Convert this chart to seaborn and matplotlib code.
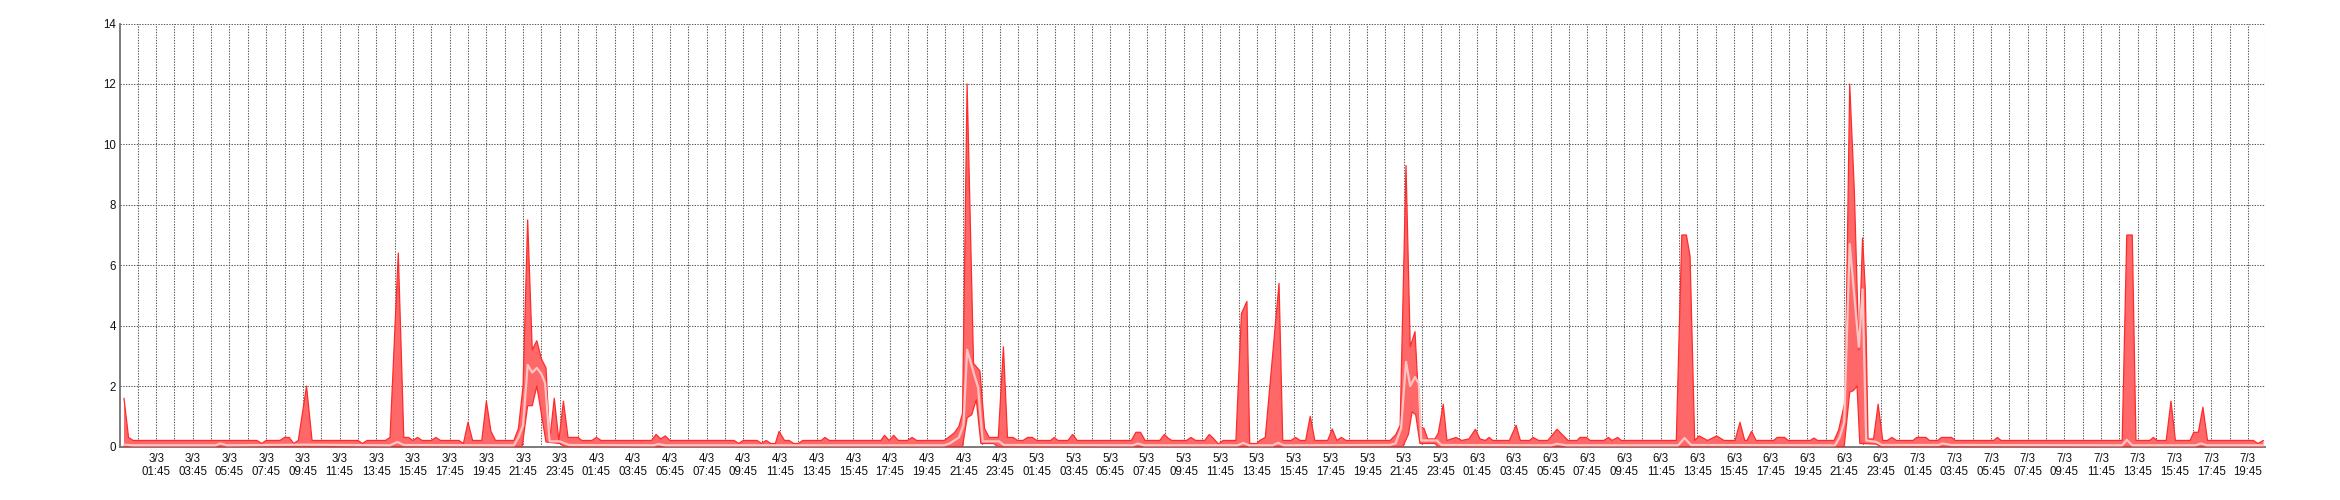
import matplotlib
matplotlib.use("Agg")
import matplotlib.pyplot as plt
import matplotlib.dates as mdates
import numpy as np
import pandas as pd
import seaborn as sns

# hours since 3/3 00:00 and values (vertices of each series)
max_hours = [
    0, 0.25, 0.5, 7.25, 7.5, 7.75, 8.5, 8.75, 9.0, 9.25, 9.5, 9.95, 10.25, 12.75, 13.0, 13.25,
    14.25, 14.5, 14.95, 15.25, 15.5, 15.75, 16.0, 16.25, 16.75, 17.0, 17.25, 18.25, 18.5, 18.75,
    19.0, 19.5, 19.75, 20.0, 20.25, 21.25, 21.5, 21.75, 22.0, 22.25, 22.5, 22.75, 23.0, 23.2,
    23.45, 23.7, 23.95, 24.2, 24.75, 24.95,
    25.5, 25.75, 26.0, 28.75, 29.0, 29.25, 29.5, 29.75, 33.25, 33.5, 33.75, 34.5, 34.75, 35.0,
    35.25, 35.5, 35.7, 36.0, 36.25, 36.5, 36.75, 37.0, 38.0, 38.2, 38.45, 41.25, 41.45, 41.7,
    41.95, 42.2, 42.7, 42.95, 43.2, 44.7, 45.0, 45.25, 45.5, 45.7, 45.95, 46.3, 46.65, 46.9,
    47.15, 47.65, 47.93, 48.15, 48.45, 48.7,
    49.0, 49.25, 49.5, 49.75, 50.5, 50.7, 50.9, 51.45, 51.7, 51.95, 54.9, 55.15, 55.4, 55.65,
    56.45, 56.7, 56.9, 57.1, 57.9, 58.15, 58.4, 58.9, 59.15, 59.4, 59.65, 59.9, 60.6, 60.9,
    61.2, 61.35, 61.75, 61.9, 62.2, 62.95, 63.15, 63.6, 63.85, 64.1, 64.4, 64.65, 64.9, 65.6,
    65.85, 66.1, 66.35, 66.6, 69.0, 69.3, 69.55, 69.87, 70.1, 70.36, 70.63, 70.85, 71.05,
    71.45, 71.63, 71.9, 72.1,
    72.6, 72.9, 73.3, 73.65, 73.9, 74.2, 74.4, 74.6, 75.5, 75.87, 76.1, 76.6, 76.8, 77.1, 77.6,
    78.1, 78.7, 79.2, 79.35, 79.7, 79.9, 80.65, 80.9, 81.1, 81.4, 81.6, 84.6, 84.9, 85.15,
    85.35, 85.6, 85.85, 86.3, 86.8, 87.2, 87.8, 88.07, 88.33, 88.45, 88.7, 88.95, 89.9, 90.1,
    90.5, 90.7, 91.9, 92.1, 92.3, 93.2, 93.45, 93.8, 94.05, 94.3, 94.55, 94.75, 94.9, 95.05,
    95.35, 95.6, 95.85,
    96.1, 96.35, 96.6, 97.5, 97.7, 98.2, 98.4, 98.85, 99.05, 99.6, 99.8, 101.9, 102.1, 102.3,
    108.9, 109.15, 109.45, 109.65, 110.4, 110.6, 110.8, 111.3, 111.56, 111.8, 112.6, 112.8,
    113.05, 113.3, 113.55, 116.05, 116.3, 116.6,
]
max_values = [
    1.6, 0.3, 0.2, 0.2, 0.1, 0.2, 0.2, 0.3, 0.3, 0.1, 0.2, 2.0, 0.2, 0.2, 0.1, 0.2,
    0.2, 0.3, 6.4, 0.3, 0.3, 0.2, 0.3, 0.2, 0.2, 0.3, 0.2, 0.2, 0.1, 0.8,
    0.2, 0.2, 1.5, 0.5, 0.2, 0.2, 0.6, 2.0, 7.5, 3.2, 3.5, 2.9, 2.6, 0.2,
    1.6, 0.2, 1.5, 0.3, 0.3, 0.2,
    0.2, 0.3, 0.2, 0.2, 0.4, 0.25, 0.35, 0.2, 0.2, 0.1, 0.2, 0.2, 0.1, 0.2,
    0.1, 0.1, 0.5, 0.2, 0.2, 0.1, 0.1, 0.2, 0.2, 0.3, 0.2, 0.2, 0.37, 0.2,
    0.37, 0.2, 0.2, 0.3, 0.2, 0.2, 0.33, 0.45, 0.66, 1.1, 12.0, 2.75, 2.5, 0.6,
    0.3, 0.3, 3.3, 0.3, 0.3, 0.2,
    0.2, 0.3, 0.3, 0.2, 0.2, 0.3, 0.2, 0.2, 0.4, 0.2, 0.2, 0.47, 0.47, 0.2,
    0.2, 0.4, 0.28, 0.2, 0.2, 0.3, 0.2, 0.2, 0.4, 0.25, 0.08, 0.2, 0.2, 4.4,
    4.8, 0.1, 0.1, 0.2, 0.3, 5.4, 0.2, 0.2, 0.3, 0.2, 0.2, 1.0, 0.2, 0.2,
    0.58, 0.2, 0.3, 0.2, 0.2, 0.38, 0.7, 9.3, 3.3, 3.8, 0.65, 0.6, 0.25,
    0.25, 0.45, 1.4, 0.2,
    0.3, 0.2, 0.25, 0.57, 0.25, 0.2, 0.3, 0.2, 0.2, 0.7, 0.2, 0.2, 0.3, 0.2, 0.2,
    0.57, 0.2, 0.2, 0.3, 0.3, 0.2, 0.2, 0.3, 0.2, 0.3, 0.2, 0.2, 7.0, 7.0,
    6.3, 0.2, 0.35, 0.2, 0.35, 0.2, 0.2, 0.8, 0.2, 0.2, 0.5, 0.2, 0.2, 0.3,
    0.3, 0.2, 0.2, 0.28, 0.2, 0.2, 0.55, 1.5, 12.0, 8.5, 3.2, 6.9, 5.2, 0.25,
    0.25, 1.4, 0.2,
    0.2, 0.3, 0.2, 0.2, 0.3, 0.3, 0.2, 0.2, 0.3, 0.3, 0.2, 0.2, 0.3, 0.2,
    0.2, 7.0, 7.0, 0.2, 0.2, 0.3, 0.2, 0.2, 1.5, 0.2, 0.2, 0.47,
    0.47, 1.3, 0.2, 0.2, 0.1, 0.2,
]

min_hours = [0, 21.7, 22.0, 22.25, 22.5, 23.0, 23.75, 24.0, 45.7, 45.95, 46.2, 46.45, 46.7,
             47.4, 47.6, 69.7, 70.0, 70.2, 70.4, 70.63, 71.45, 71.6, 93.75, 94.05, 94.25,
             94.45, 94.6, 95.5, 95.7, 116.6]
min_values = [0, 0, 1.35, 1.35, 2.0, 0.15, 0.1, 0, 0, 0.95, 1.05, 1.55, 0.1,
              0.1, 0, 0, 0.4, 1.15, 1.05, 0.1, 0.1, 0, 0, 1.8, 1.85,
              2.0, 0.1, 0.08, 0, 0]

avg_hours = [0, 0.5, 5.0, 5.25, 5.6, 9.9, 14.5, 14.9, 15.25, 21.25, 21.5, 21.75, 22.0, 22.25,
             22.5, 22.75, 22.95, 23.2, 23.75, 24.25, 28.9, 29.1, 29.5, 44.7, 45.0, 45.5,
             45.75, 45.95, 46.3, 46.55, 46.8, 47.7, 47.95, 55.0, 55.25, 55.6, 60.7, 61.0,
             61.3, 62.6, 62.9, 63.2, 69.0, 69.3, 69.6, 69.87, 70.1, 70.36, 70.55, 70.7,
             71.55, 71.8, 77.8, 78.1, 78.6, 84.7, 85.05, 85.4, 93.25, 93.5, 93.75, 94.05,
             94.55, 94.75, 94.95, 95.5, 95.8, 98.9, 99.1, 99.6, 108.9, 109.15, 109.45,
             112.9, 113.2, 113.5, 116.6]
avg_values = [0.06, 0.04, 0.04, 0.1, 0.04, 0.06, 0.04, 0.15, 0.05, 0.04, 0.3, 0.7, 2.7, 2.45,
              2.6, 2.4, 2.1, 0.17, 0.17, 0.05, 0.04, 0.08, 0.04, 0.04, 0.1, 0.3,
              0.7, 3.2, 2.45, 1.95, 0.17, 0.17, 0.05, 0.04, 0.1, 0.04, 0.04, 0.12,
              0.04, 0.04, 0.12, 0.04, 0.05, 0.1, 0.6, 2.8, 2.0, 2.3, 2.1, 0.2,
              0.2, 0.05, 0.04, 0.09, 0.04, 0.04, 0.28, 0.05, 0.04, 0.3, 0.8, 6.7,
              3.3, 5.2, 0.2, 0.15, 0.05, 0.05, 0.1, 0.05, 0.04, 0.22, 0.04,
              0.04, 0.1, 0.04, 0.04]

start = pd.Timestamp("2015-03-03 00:00")
x_start = pd.Timestamp("2015-03-02 23:47")
x_end = pd.Timestamp("2015-03-07 20:41")
label_ticks = pd.date_range("2015-03-03 01:45", "2015-03-07 19:45", freq="2h")
hour_ticks = pd.date_range("2015-03-03 00:45", "2015-03-07 19:45", freq="1h")
y_ticks = [0, 2, 4, 6, 8, 10, 12, 14]

max_t = start + pd.to_timedelta(max_hours, unit="h")
min_t = start + pd.to_timedelta(min_hours, unit="h")
avg_t = start + pd.to_timedelta(avg_hours, unit="h")

sns.set_theme(style="white")
plt.rcParams["font.family"] = ["Liberation Sans", "DejaVu Sans"]

W, H = 2340, 500
fig = plt.figure(figsize=(W / 100, H / 100), dpi=100)
ax = fig.add_axes([120 / W, 1 - 446.5 / H, (2265 - 120) / W, (446.5 - 23.5) / H])

band_color = "#FF6868"
edge_color = "#FF2B2B"
avg_color = "#FFC4C4"

# min/max band as one polygon: max forward, min backwards
poly_x = np.concatenate([mdates.date2num(max_t), mdates.date2num(min_t)[::-1]])
poly_y = np.concatenate([max_values, min_values[::-1]])
ax.fill(poly_x, poly_y, color=band_color, lw=0, zorder=2)

sns.lineplot(x=max_t, y=max_values, color=edge_color, lw=0.9, estimator=None, ax=ax, zorder=3)
sns.lineplot(x=min_t, y=min_values, color=edge_color, lw=0.9, estimator=None, ax=ax, zorder=3)
sns.lineplot(x=avg_t, y=avg_values, color=avg_color, lw=1.6, estimator=None, ax=ax, zorder=4)

ax.set_xlim(x_start, x_end)
ax.set_ylim(0, 14)
ax.set_yticks(y_ticks)
ax.set_yticklabels([str(v) for v in y_ticks])
ax.set_xticks(label_ticks)
ax.set_xticks(hour_ticks, minor=True)
ax.set_xticklabels([f"{d.day}/{d.month}\n{d:%H:%M}" for d in label_ticks])
for lbl in ax.get_xticklabels():
    lbl.set_linespacing(1.05)

grid_kw = dict(color="#5a5a5a", lw=0.75, ls=(0, (1.3, 1.3)))
ax.grid(True, which="both", axis="x", **grid_kw)
ax.grid(True, which="major", axis="y", **grid_kw)
ax.axvline(x_end, **grid_kw)
ax.set_axisbelow(True)

ax.tick_params(axis="both", which="both", length=0, labelsize=8.3, colors="#111111")
ax.tick_params(axis="x", pad=5)
ax.tick_params(axis="y", pad=3)

for side in ("top", "right"):
    ax.spines[side].set_visible(False)
for side in ("left", "bottom"):
    ax.spines[side].set_color("#707070")
    ax.spines[side].set_linewidth(1.3)

ax.set_xlabel("")
ax.set_ylabel("")
ax.legend_ = None

fig.savefig("out.png", dpi=100)
